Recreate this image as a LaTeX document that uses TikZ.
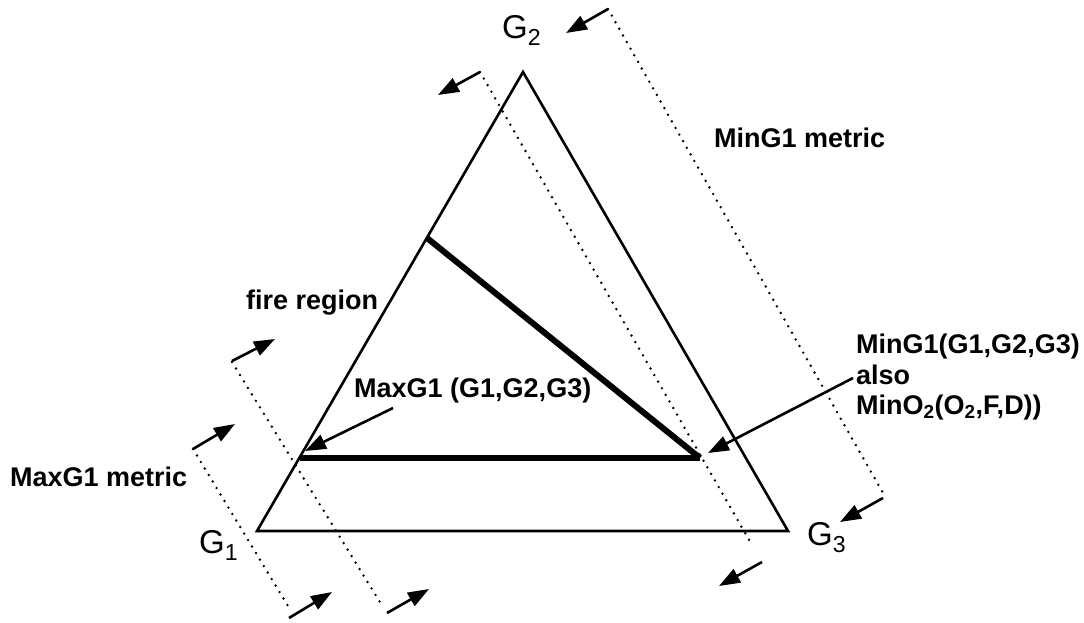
\documentclass[tikz,border=0pt]{standalone}
\usepackage{fontspec}
\setmainfont{Liberation Sans}
\usetikzlibrary{arrows.meta}
\begin{document}
\begin{tikzpicture}[x=1pt,y=-1pt,
  edge/.style={line width=2.6pt, line join=miter},
  bar/.style={line width=6pt},
  dots/.style={line width=2.7pt, line cap=round, dash pattern=on 0pt off 7.6pt},
  arr/.style={line width=2.6pt, -{Triangle[length=21pt,width=15pt]}},
  lbl/.style={anchor=base west, inner sep=0pt, font=\fontsize{27}{30}\selectfont\bfseries},
  vlbl/.style={anchor=base west, inner sep=0pt, font=\fontsize{33}{36}\selectfont}]
\useasboundingbox (0,0) rectangle (1084,622);
% triangle vertices
\coordinate (V1) at (257,531);
\coordinate (V2) at (523,72);
\coordinate (V3) at (788,531);
\draw[edge] (V1) -- (V2) -- (V3) -- cycle;
% thick region lines
\coordinate (P) at (300,458);
\coordinate (Q) at (700,458);
\coordinate (R) at (427,238);
\draw[bar] (P) -- (Q);
\draw[bar] (R) -- (Q);
% dotted metric lines
\coordinate (a1) at (193,449); \coordinate (b1) at (288,606);
\coordinate (a2) at (232,362); \coordinate (b2) at (383,607);
\coordinate (a3) at (480,72);  \coordinate (b3) at (752,545);
\coordinate (a4) at (608,9);   \coordinate (b4) at (883,493);
\draw[dots] (a1) -- (b1);
\draw[dots] (a2) -- (b2);
\draw[dots] (a3) -- (b3);
\draw[dots] (a4) -- (b4);
% direction arrows
\coordinate (s1) at (193,449); \coordinate (t1) at (235,424);
\coordinate (s2) at (289,618); \coordinate (t2) at (332,592);
\coordinate (s3) at (232,361); \coordinate (t3) at (275,339);
\coordinate (s4) at (387,613); \coordinate (t4) at (429,589);
\coordinate (s5) at (480,72);  \coordinate (t5) at (438,95);
\coordinate (s6) at (762,562); \coordinate (t6) at (719,586);
\coordinate (s7) at (608,9);   \coordinate (t7) at (566,33);
\coordinate (s8) at (883,498); \coordinate (t8) at (840,522);
\draw[arr] (s1) -- (t1);
\draw[arr] (s2) -- (t2);
\draw[arr] (s3) -- (t3);
\draw[arr] (s4) -- (t4);
\draw[arr] (s5) -- (t5);
\draw[arr] (s6) -- (t6);
\draw[arr] (s7) -- (t7);
\draw[arr] (s8) -- (t8);
% vertex labels
\node[vlbl] (g1) at (199,553) {G\textsubscript{1}};
\node[vlbl] (g2) at (502,38) {G\textsubscript{2}};
\node[vlbl] (g3) at (807,545) {G\textsubscript{3}};
% labels
\node[lbl] (minmetric) at (714,147) {MinG1 metric};
\node[lbl] (fire) at (246,309) {fire region};
\node[lbl] (maxlbl) at (354,397) {MaxG1 (G1,G2,G3)};
\node[lbl] (maxmetric) at (10,486) {MaxG1 metric};
\node[lbl] (minA) at (856,353) {MinG1(G1,G2,G3)};
\node[lbl] (minB) at (856,384) {also};
\node[lbl] (minC) at (856,414) {MinO\textsubscript{2}(O\textsubscript{2},F,D))};
% label arrows
\coordinate (m1) at (393,408); \coordinate (m2) at (305,451);
\coordinate (n1) at (853,378); \coordinate (n2) at (708,453);
\draw[arr] (m1) -- (m2);
\draw[arr] (n1) -- (n2);
\end{tikzpicture}
\end{document}
